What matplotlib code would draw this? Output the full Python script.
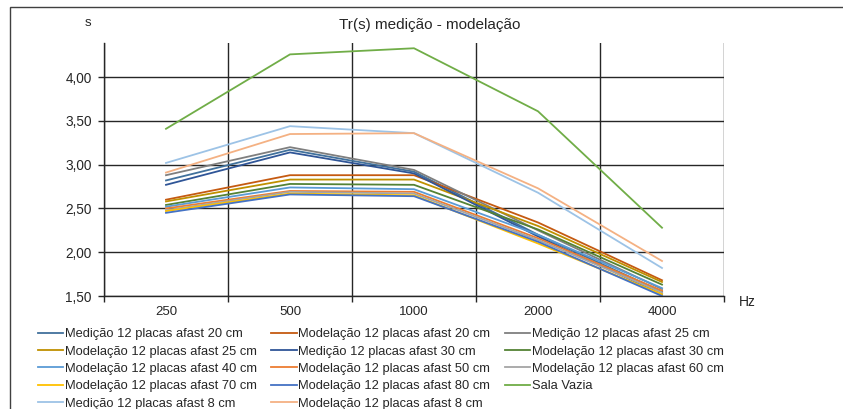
import matplotlib
matplotlib.use("Agg")
import matplotlib.pyplot as plt
from matplotlib.patches import Rectangle
from matplotlib.ticker import FixedLocator, FuncFormatter

plt.rcParams['font.family'] = ['Liberation Sans', 'DejaVu Sans']

freqs = ['250', '500', '1000', '2000', '4000']

med_20 = [2.82, 3.17, 2.92, 2.20, 1.55]
mod_20 = [2.60, 2.88, 2.88, 2.34, 1.68]
med_25 = [2.88, 3.20, 2.94, 2.25, 1.58]
mod_25 = [2.58, 2.83, 2.83, 2.30, 1.66]
med_30 = [2.77, 3.14, 2.90, 2.18, 1.52]
mod_30 = [2.54, 2.78, 2.77, 2.26, 1.63]
mod_40 = [2.52, 2.74, 2.72, 2.20, 1.59]
mod_50 = [2.50, 2.70, 2.69, 2.16, 1.56]
mod_60 = [2.48, 2.69, 2.67, 2.14, 1.54]
mod_70 = [2.47, 2.67, 2.65, 2.10, 1.52]
mod_80 = [2.45, 2.66, 2.64, 2.12, 1.50]
sala_vazia = [3.41, 4.26, 4.33, 3.61, 2.28]
med_8 = [3.02, 3.44, 3.36, 2.68, 1.82]
mod_8 = [2.91, 3.35, 3.36, 2.73, 1.90]

series = [
    ('Medição 12 placas afast 20 cm', med_20, '#41719C'),
    ('Modelação 12 placas afast 20 cm', mod_20, '#C55A11'),
    ('Medição 12 placas afast 25 cm', med_25, '#7F7F7F'),
    ('Modelação 12 placas afast 25 cm', mod_25, '#BF9000'),
    ('Medição 12 placas afast 30 cm', med_30, '#2F5597'),
    ('Modelação 12 placas afast 30 cm', mod_30, '#548235'),
    ('Modelação 12 placas afast 40 cm', mod_40, '#5B9BD5'),
    ('Modelação 12 placas afast 50 cm', mod_50, '#ED7D31'),
    ('Modelação 12 placas afast 60 cm', mod_60, '#A5A5A5'),
    ('Modelação 12 placas afast 70 cm', mod_70, '#FFC000'),
    ('Modelação 12 placas afast 80 cm', mod_80, '#4472C4'),
    ('Sala Vazia', sala_vazia, '#70AD47'),
    ('Medição 12 placas afast 8 cm', med_8, '#9DC3E6'),
    ('Modelação 12 placas afast 8 cm', mod_8, '#F4B183'),
]

W, H = 843, 409
fig = plt.figure(figsize=(W / 100, H / 100), dpi=100)
ax = fig.add_axes([104 / W, 1 - 296 / H, 620 / W, 253 / H])

x = list(range(len(freqs)))
handles = []
for label, vals, color in series:
    h, = ax.plot(x, vals, color=color, lw=1.3, label=label)
    handles.append(h)

ax.set_xlim(-0.5, len(freqs) - 0.5)
ax.set_ylim(1.5, 4.39)

ax.set_xticks(x)
ax.set_xticklabels(freqs)
ax.xaxis.set_minor_locator(FixedLocator([i - 0.5 for i in range(len(freqs) + 1)]))
ax.tick_params(axis='x', which='major', length=0, pad=7, labelsize=9.5, colors='#262626')
ax.tick_params(axis='x', which='minor', length=4, width=1, color='#262626')
ax.grid(True, axis='x', which='minor', color='#262626', lw=1)

ax.set_yticks([1.5, 2.0, 2.5, 3.0, 3.5, 4.0])
ax.yaxis.set_major_formatter(FuncFormatter(lambda v, p: f'{v:.2f}'.replace('.', ',')))
ax.tick_params(axis='y', length=4, width=1, color='#262626', pad=5, labelsize=9.8, labelcolor='#262626')
ax.grid(True, axis='y', which='major', color='#262626', lw=1)
ax.set_axisbelow(True)

for s in ['top', 'right']:
    ax.spines[s].set_visible(False)
for s in ['left', 'bottom']:
    ax.spines[s].set_color('#262626')
    ax.spines[s].set_linewidth(1)

fig.text(430 / W, 1 - 25 / H, 'Tr(s) medição - modelação', ha='center', va='center',
         fontsize=11, color='#262626')
fig.text(88 / W, 1 - 23 / H, 's', ha='center', va='center', fontsize=9.5, color='#262626')
fig.text(747 / W, 1 - 302 / H, 'Hz', ha='center', va='center', fontsize=10, color='#262626')

# excel legend fills row by row, matplotlib column by column
order = [0, 3, 6, 9, 12, 1, 4, 7, 10, 13, 2, 5, 8, 11]
fig.legend([handles[i] for i in order], [series[i][0] for i in order],
           loc='upper left', bbox_to_anchor=(38 / W, 1 - 328 / H), ncol=3,
           frameon=False, fontsize=9.3, handlelength=1.95, handletextpad=0.15,
           columnspacing=1.1, labelspacing=0.42, borderpad=0, borderaxespad=0,
           labelcolor='#262626')

fig.patches.append(Rectangle((10 / W, -0.1), 1.2, 1 - 7 / H + 0.1, transform=fig.transFigure,
                             fill=False, edgecolor='#404040', lw=1))

fig.savefig('out.png', dpi=100)
